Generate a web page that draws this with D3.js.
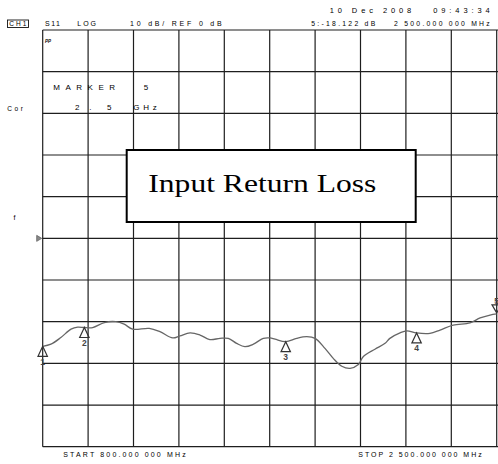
<!DOCTYPE html>
<html><head><meta charset="utf-8">
<script src="https://cdn.jsdelivr.net/npm/d3@7"></script>
<style>
html,body{margin:0;padding:0;background:#fff;}
svg{display:block;}
text{white-space:pre;}
</style></head>
<body>
<svg id="c" width="498" height="464"></svg>
<script>
// ---- data ----
const freqMHz = [800,831,868,906,931,956,987,1031,1074,1105,1137,1199,1239,1287,1314,1352,1389,1426,1464,1495,1526,1557,1589,1626,1651,1670,1710,1751,1789,1820,1857,1888,1920,1951,1982,2000,2044,2082,2100,2138,2163,2200,2250,2288,2337,2400,2438,2475,2500];
const s11dB   = [-25.9,-25.4,-23.8,-21.8,-21.3,-21.4,-21.4,-20.2,-20.0,-20.6,-21.8,-21.6,-22.4,-23.9,-23.4,-22.7,-23.2,-24.3,-24.0,-24.0,-25.2,-26.0,-25.4,-24.0,-23.9,-24.2,-24.8,-24.0,-23.6,-24.0,-26.4,-28.8,-30.7,-31.2,-30.3,-28.4,-26.6,-25.2,-24.0,-22.7,-22.2,-22.7,-22.8,-22.0,-20.8,-20.3,-19.1,-18.4,-18.12];
const markerFreq = [800,956,1710,2200,2500];
const markerDB   = [-25.9,-21.4,-24.8,-22.7,-18.12];
const markerLabels = ["1","2","3","4","5"];
const xDomain = [800,2500];
const yDomain = [-50,50];
const xDivs = 10, yDivs = 10;
const refLevel = 0;

const svg = d3.select("#c");
const L=42.7, R=496.7, T=30, B=446.7;
const x = d3.scaleLinear().domain(xDomain).range([L,R]);
const y = d3.scaleLinear().domain(yDomain).range([B,T]);

// grid
const xt = d3.range(xDivs+1).map(i=>xDomain[0]+i*(xDomain[1]-xDomain[0])/xDivs);
const yt = d3.range(yDivs+1).map(i=>yDomain[0]+i*(yDomain[1]-yDomain[0])/yDivs);
const g = svg.append("g");
g.selectAll("line.v").data(xt).join("line")
  .attr("x1",d=>x(d)).attr("x2",d=>x(d)).attr("y1",T).attr("y2",B)
  .attr("stroke","#1e1e1e").attr("stroke-width",1.2);
g.selectAll("line.h").data(yt).join("line")
  .attr("y1",d=>y(d)).attr("y2",d=>y(d)).attr("x1",L).attr("x2",R+2)
  .attr("stroke","#1e1e1e").attr("stroke-width",1.2);

// reference arrow
svg.append("path")
  .attr("d",`M${L-6},${y(refLevel)-3} L${L-1},${y(refLevel)} L${L-6},${y(refLevel)+3} Z`)
  .attr("fill","#888").attr("stroke","#666").attr("stroke-width",0.8);

// title box
svg.append("rect").attr("x",126.7).attr("y",150).attr("width",289).attr("height",72)
  .attr("fill","#fff").attr("stroke","#000").attr("stroke-width",2);
svg.append("text").attr("x",148.3).attr("y",191.7)
  .attr("font-family","Liberation Serif, Times New Roman, serif").attr("font-size",26)
  .attr("textLength",228).attr("lengthAdjust","spacingAndGlyphs")
  .text("Input Return Loss");

// trace
const pts = freqMHz.map((f,i)=>[f,s11dB[i]]);
svg.append("path").datum(pts)
  .attr("d",d3.line().x(d=>x(d[0])).y(d=>y(d[1])).curve(d3.curveCatmullRom))
  .attr("fill","none").attr("stroke","#666").attr("stroke-width",1.3);

// markers
markerFreq.forEach((f,i)=>{
  const mx=x(f), my=y(markerDB[i]);
  const up = i<4;
  const mg = svg.append("g");
  if(up){
    mg.append("path").attr("d",`M${mx},${my} L${mx-4.7},${my+10} L${mx+4.7},${my+10} Z`)
      .attr("fill","none").attr("stroke","#333").attr("stroke-width",1.2);
    mg.append("text").attr("x",mx).attr("y",my+18.5).attr("text-anchor","middle")
      .attr("font-family","Liberation Sans, Arial, sans-serif").attr("font-size",8.5)
      .attr("font-weight","bold").attr("fill","#444").text(markerLabels[i]);
  } else {
    mg.append("path").attr("d",`M${mx},${my-1} L${mx-4.7},${my-9} L${mx+4.7},${my-9} Z`)
      .attr("fill","none").attr("stroke","#333").attr("stroke-width",1.2);
    mg.append("text").attr("x",mx).attr("y",my-10).attr("text-anchor","middle")
      .attr("font-family","Liberation Sans, Arial, sans-serif").attr("font-size",8.5)
      .attr("font-weight","bold").attr("fill","#444").text(markerLabels[i]);
  }
});

// annotation texts
const F="Liberation Sans, Arial, sans-serif";
function t(str,x0,yb,w,fs){
  const e=svg.append("text").attr("x",x0).attr("y",yb).attr("font-family",F)
    .attr("font-size",fs||7).attr("fill","#000").text(str);
  if(w) e.attr("textLength",w).attr("lengthAdjust","spacing");
  return e;
}
svg.append("rect").attr("x",7.5).attr("y",20).attr("width",21).attr("height",7.5)
  .attr("fill","none").attr("stroke","#111").attr("stroke-width",0.9);
t("CH1",9.3,26.3,17,6.5);
t("S11",45,26.3,15,7);
t("LOG",77.3,26.3,18.7,7);
t("10 dB/ REF 0 dB",130,26.3,91.7,7);
t("10 Dec 2008   09:43:34",329.7,12.6,160,7.5);
t("5:-18.122 dB    2 500.000 000 MHz",311.3,26.4,178.4,6.8);
t("MARKER   5",53.3,90,95,8);
t("2 .  5   GHz",75,109.5,81.7,8);
t("Cor",7.3,110.5,15.5,6.5);
t("f",13.5,220,null,7);
t("PP",45,43,6,4.5).attr("font-style","italic").attr("font-weight","bold");
t("START 800.000 000 MHz",63.3,456.8,122.4,7);
t("STOP 2 500.000 000 MHz",358.3,456.8,123.4,7);
</script>
</body></html>
